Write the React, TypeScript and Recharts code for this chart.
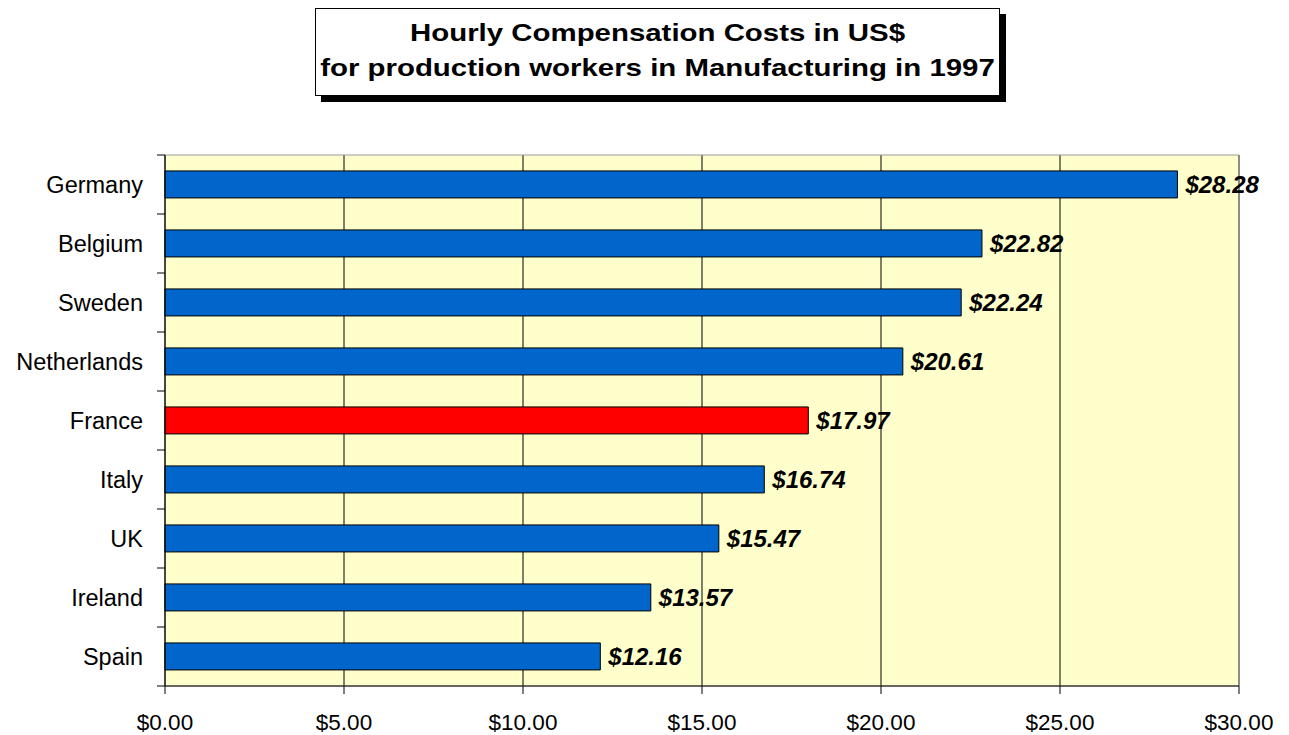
import React from "react";
import {
  BarChart,
  Bar,
  XAxis,
  YAxis,
  CartesianGrid,
  Cell,
  LabelList,
  ReferenceArea,
} from "recharts";

const countries = [
  "Germany",
  "Belgium",
  "Sweden",
  "Netherlands",
  "France",
  "Italy",
  "UK",
  "Ireland",
  "Spain",
];
const costs = [28.28, 22.82, 22.24, 20.61, 17.97, 16.74, 15.47, 13.57, 12.16];
const xTicks = [0, 5, 10, 15, 20, 25, 30];
const highlight = "France";

const data = countries.map((name, i) => ({ name, cost: costs[i] }));

const FONT = "'Liberation Sans', Arial, sans-serif";
const W = 1289;
const H = 735;
const TOP = 155;
const X_AXIS_H = 49;

const money = (v: number) => `$${Number(v).toFixed(2)}`;

// category label at the band centre, small tick mark at the band boundary
function CountryTick(props: any) {
  const { x, y, payload, index } = props;
  const band = (H - TOP - X_AXIS_H) / countries.length;
  const half = payload && payload.offset ? payload.offset : band / 2;
  return (
    <g>
      <line x1={x - 8} x2={x} y1={y - half} y2={y - half} stroke="#000" />
      {index === countries.length - 1 && (
        <line x1={x - 8} x2={x} y1={y + half} y2={y + half} stroke="#000" />
      )}
      <text
        x={x - 22}
        y={y}
        dy="0.35em"
        textAnchor="end"
        fontSize={23.5}
        fontFamily={FONT}
        fill="#000"
      >
        {payload.value}
      </text>
    </g>
  );
}

export default function App() {
  return (
    <div
      style={{
        position: "absolute",
        left: 0,
        top: 0,
        width: W,
        height: H,
        background: "#fff",
        fontFamily: FONT,
      }}
    >
      <div
        style={{
          position: "absolute",
          left: 315,
          top: 8,
          width: 685,
          height: 88,
          boxSizing: "border-box",
          border: "1px solid #000",
          boxShadow: "6px 6px 0 #000",
          background: "#fff",
          textAlign: "center",
          fontWeight: "bold",
          fontSize: 24.5,
          lineHeight: "35px",
          paddingTop: 6,
          color: "#000",
          zIndex: 1,
        }}
      >
        <div style={{ transform: "scaleX(1.2)", transformOrigin: "center", whiteSpace: "nowrap" }}>
          Hourly Compensation Costs in US$
          <br />
          for production workers in Manufacturing in 1997
        </div>
      </div>
      <BarChart
        width={W}
        height={H}
        data={data}
        layout="vertical"
        margin={{ top: TOP, right: 50, bottom: 0, left: 0 }}
        barCategoryGap="27%"
      >
        <CartesianGrid
          fill="#FFFFCC"
          stroke="#000"
          horizontal={false}
          vertical={true}
        />
        <ReferenceArea
          x1={0}
          x2={30}
          fill="none"
          stroke="#999"
          strokeWidth={1}
        />
        <XAxis
          type="number"
          domain={[0, 30]}
          ticks={xTicks}
          tickFormatter={money}
          height={X_AXIS_H}
          axisLine={{ stroke: "#000" }}
          tickLine={{ stroke: "#000" }}
          tickSize={8}
          tickMargin={20}
          tick={{ fontSize: 22.5, fontFamily: FONT, fill: "#000" }}
          interval={0}
        />
        <YAxis
          type="category"
          dataKey="name"
          width={165}
          axisLine={{ stroke: "#000" }}
          tickLine={false}
          tickSize={0}
          tickMargin={0}
          tick={<CountryTick />}
          interval={0}
        />
        <Bar
          dataKey="cost"
          stroke="#000"
          strokeWidth={1}
          isAnimationActive={false}
        >
          {data.map((d) => (
            <Cell
              key={d.name}
              fill={d.name === highlight ? "#FF0000" : "#0066CC"}
            />
          ))}
          <LabelList
            dataKey="cost"
            position="right"
            offset={8}
            formatter={(v: any) => money(v)}
            style={{
              fontSize: 24,
              fontWeight: "bold",
              fontStyle: "italic",
              fontFamily: FONT,
              fill: "#000",
            }}
          />
        </Bar>
      </BarChart>
    </div>
  );
}
